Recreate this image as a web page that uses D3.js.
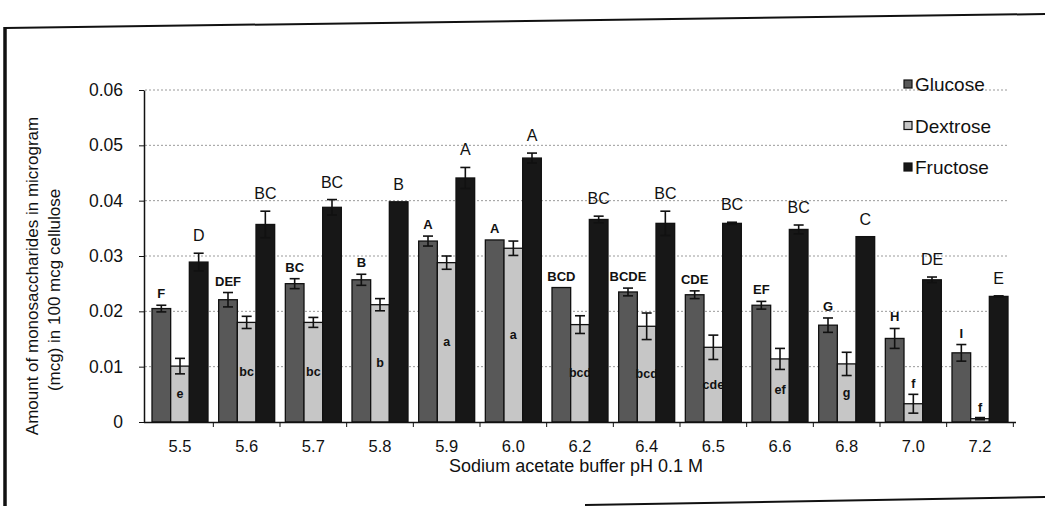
<!DOCTYPE html>
<html>
<head>
<meta charset="utf-8">
<script src="https://cdn.jsdelivr.net/npm/d3@7/dist/d3.min.js"></script>
<style>
  body { margin: 0; background: #fff; }
  svg { display: block; font-family: "Liberation Sans", Arial, sans-serif; }
</style>
</head>
<body>
<div id="chart"></div>
<script>
// pH values (categories)
const phLabels = ["5.5", "5.6", "5.7", "5.8", "5.9", "6.0", "6.2", "6.4", "6.5", "6.6", "6.8", "7.0", "7.2"];
const seriesNames = ["Glucose", "Dextrose", "Fructose"];

const glucose    = [0.0205, 0.0221, 0.0250, 0.0257, 0.0327, 0.0329, 0.0243, 0.0235, 0.0230, 0.0211, 0.0175, 0.0151, 0.0125];
const glucoseErr = [0.0006, 0.0013, 0.0009, 0.0010, 0.0009, 0,      0,      0.0007, 0.0007, 0.0007, 0.0013, 0.0018, 0.0015];
const dextrose    = [0.0101, 0.0180, 0.0180, 0.0212, 0.0288, 0.0314, 0.0176, 0.0173, 0.0135, 0.0114, 0.0105, 0.0033, 0.0006];
const dextroseErr = [0.0014, 0.0011, 0.0009, 0.0011, 0.0012, 0.0013, 0.0016, 0.0024, 0.0022, 0.0019, 0.0021, 0.0017, 0.0002];
const fructose    = [0.0289, 0.0357, 0.0388, 0.0398, 0.0441, 0.0477, 0.0366, 0.0359, 0.0359, 0.0348, 0.0335, 0.0257, 0.0227];
const fructoseErr = [0.0016, 0.0024, 0.0014, 0,      0.0019, 0.0009, 0.0006, 0.0022, 0.0002, 0.0008, 0,      0.0005, 0.0001];

// significance letters
const glucoseLetters  = ["F", "DEF", "BC", "B", "A", "A", "BCD", "BCDE", "CDE", "EF", "G", "H", "I"];
const dextroseLetters = ["e", "bc", "bc", "b", "a", "a", "bcd", "bcd", "cde", "ef", "g", "f", "f"];
const fructoseLetters = ["D", "BC", "BC", "B", "A", "A", "BC", "BC", "BC", "BC", "C", "DE", "E"];

const yTicks = [0, 0.01, 0.02, 0.03, 0.04, 0.05, 0.06];

const width = 1045, height = 506;
const colors = { Glucose: "#585858", Dextrose: "#c6c6c6", Fructose: "#171717" };

const values = { Glucose: glucose, Dextrose: dextrose, Fructose: fructose };
const errors = { Glucose: glucoseErr, Dextrose: dextroseErr, Fructose: fructoseErr };
const letters = { Glucose: glucoseLetters, Dextrose: dextroseLetters, Fructose: fructoseLetters };

const rows = [];
phLabels.forEach((ph, i) => {
    seriesNames.forEach(s => {
        rows.push({ ph: ph, series: s, value: values[s][i], err: errors[s][i], letter: letters[s][i] });
    });
});

const svg = d3.select("#chart").append("svg")
    .attr("width", width)
    .attr("height", height);

// scanned frame
svg.append("path").attr("d", "M5,28 L1045,14").attr("stroke", "#111").attr("stroke-width", 2).attr("fill", "none");
svg.append("path").attr("d", "M5,27 L5,506").attr("stroke", "#111").attr("stroke-width", 3.5).attr("fill", "none");
svg.append("path").attr("d", "M585,505 L1045,497").attr("stroke", "#111").attr("stroke-width", 2).attr("fill", "none");

const x0 = d3.scaleBand()
    .domain(phLabels)
    .range([144, 1016])
    .paddingInner(0.16)
    .paddingOuter(0.12);

const x1 = d3.scaleBand()
    .domain(seriesNames)
    .range([0, x0.bandwidth()]);

const y = d3.scaleLinear()
    .domain([0, 0.06])
    .range([422, 90]);

// dotted gridlines
svg.append("g")
    .selectAll("line")
    .data(yTicks.slice(1))
    .enter()
    .append("line")
    .attr("x1", 145)
    .attr("x2", 1008)
    .attr("y1", d => y(d))
    .attr("y2", d => y(d))
    .attr("stroke", "#9a9a9a")
    .attr("stroke-width", 1)
    .attr("stroke-dasharray", "2,2");

// y axis
const yAxis = d3.axisLeft(y)
    .tickValues(yTicks)
    .tickFormat(d => d === 0 ? "0" : d.toFixed(2))
    .tickSize(5)
    .tickSizeOuter(0);

const gy = svg.append("g")
    .attr("transform", "translate(144,0)")
    .call(yAxis);
gy.select(".domain").attr("stroke", "#111").attr("stroke-width", 1.5);
gy.selectAll(".tick line").attr("stroke", "#111");
gy.selectAll(".tick text")
    .attr("x", -21)
    .attr("font-size", 17.5)
    .attr("font-family", "'Liberation Sans', Arial, sans-serif")
    .attr("fill", "#111");

// bars
const groups = svg.append("g")
    .selectAll("g")
    .data(phLabels)
    .enter()
    .append("g")
    .attr("transform", d => `translate(${x0(d)},0)`);

const bars = groups.selectAll("g.bar")
    .data(ph => rows.filter(r => r.ph === ph))
    .enter()
    .append("g")
    .attr("class", "bar");

bars.append("rect")
    .attr("x", d => x1(d.series))
    .attr("y", d => y(d.value))
    .attr("width", x1.bandwidth())
    .attr("height", d => y(0) - y(d.value))
    .attr("fill", d => colors[d.series])
    .attr("stroke", "#111")
    .attr("stroke-width", 1.3);

// error bars
const cap = 5;
const eb = bars.filter(d => d.err > 0);
eb.append("line")
    .attr("x1", d => x1(d.series) + x1.bandwidth() / 2)
    .attr("x2", d => x1(d.series) + x1.bandwidth() / 2)
    .attr("y1", d => y(d.value + d.err))
    .attr("y2", d => y(d.value - d.err))
    .attr("stroke", "#111").attr("stroke-width", 1.6);
eb.append("line")
    .attr("x1", d => x1(d.series) + x1.bandwidth() / 2 - cap)
    .attr("x2", d => x1(d.series) + x1.bandwidth() / 2 + cap)
    .attr("y1", d => y(d.value + d.err))
    .attr("y2", d => y(d.value + d.err))
    .attr("stroke", "#111").attr("stroke-width", 1.6);
eb.append("line")
    .attr("x1", d => x1(d.series) + x1.bandwidth() / 2 - cap)
    .attr("x2", d => x1(d.series) + x1.bandwidth() / 2 + cap)
    .attr("y1", d => y(d.value - d.err))
    .attr("y2", d => y(d.value - d.err))
    .attr("stroke", "#111").attr("stroke-width", 1.6);

// letters
bars.append("text")
    .attr("x", d => x1(d.series) + x1.bandwidth() / 2)
    .attr("y", d => {
        const top = y(d.value + d.err);
        if (d.series === "Glucose") return top - 7;
        if (d.series === "Fructose") return top - 12;
        const h = y(0) - y(d.value);
        if (h < 30) return top - 6;
        return (y(d.value) + y(0)) / 2 + 4;
    })
    .attr("text-anchor", "middle")
    .attr("font-size", d => d.series === "Fructose" ? 16 : (d.series === "Glucose" ? 13 : 12.5))
    .attr("font-weight", d => d.series === "Fructose" ? "normal" : "bold")
    .attr("fill", "#111")
    .text(d => d.letter);

// x axis
const xAxis = d3.axisBottom(x0).tickSize(0).tickSizeOuter(0);
const gx = svg.append("g")
    .attr("transform", `translate(0,${y(0)})`)
    .call(xAxis);
gx.select(".domain").attr("d", `M144,0.5H1016`).attr("stroke", "#111").attr("stroke-width", 1.5);
gx.selectAll(".tick text")
    .attr("y", 18)
    .attr("font-size", 16.5)
    .attr("font-family", "'Liberation Sans', Arial, sans-serif")
    .attr("fill", "#111");

// boundary ticks between categories
const step = x0.step();
gx.append("g")
    .selectAll("line")
    .data(phLabels)
    .enter()
    .append("line")
    .attr("x1", d => x0(d) + x0.bandwidth() + (step - x0.bandwidth()) / 2)
    .attr("x2", d => x0(d) + x0.bandwidth() + (step - x0.bandwidth()) / 2)
    .attr("y1", 0)
    .attr("y2", 5)
    .attr("stroke", "#111");

// axis titles
svg.append("text")
    .attr("x", 576)
    .attr("y", 472)
    .attr("text-anchor", "middle")
    .attr("font-size", 18)
    .attr("fill", "#111")
    .text("Sodium acetate buffer pH 0.1 M");

svg.append("text")
    .attr("transform", "translate(38,276) rotate(-90)")
    .attr("text-anchor", "middle")
    .attr("font-size", 17)
    .attr("fill", "#111")
    .text("Amount of monosaccharides in microgram");

svg.append("text")
    .attr("transform", "translate(60,290) rotate(-90)")
    .attr("text-anchor", "middle")
    .attr("font-size", 17)
    .attr("fill", "#111")
    .text("(mcg) in 100 mcg cellulose");

// legend
const legend = svg.append("g")
    .selectAll("g")
    .data(seriesNames)
    .enter()
    .append("g")
    .attr("transform", (d, i) => `translate(904,${84 + i * 41.5})`);

legend.append("rect")
    .attr("x", 0)
    .attr("y", -4)
    .attr("width", 8)
    .attr("height", 8)
    .attr("fill", d => colors[d])
    .attr("stroke", "#111")
    .attr("stroke-width", 1.2);

legend.append("text")
    .attr("x", 11)
    .attr("y", 7)
    .attr("font-size", 19)
    .attr("fill", "#111")
    .text(d => d);
</script>
</body>
</html>
